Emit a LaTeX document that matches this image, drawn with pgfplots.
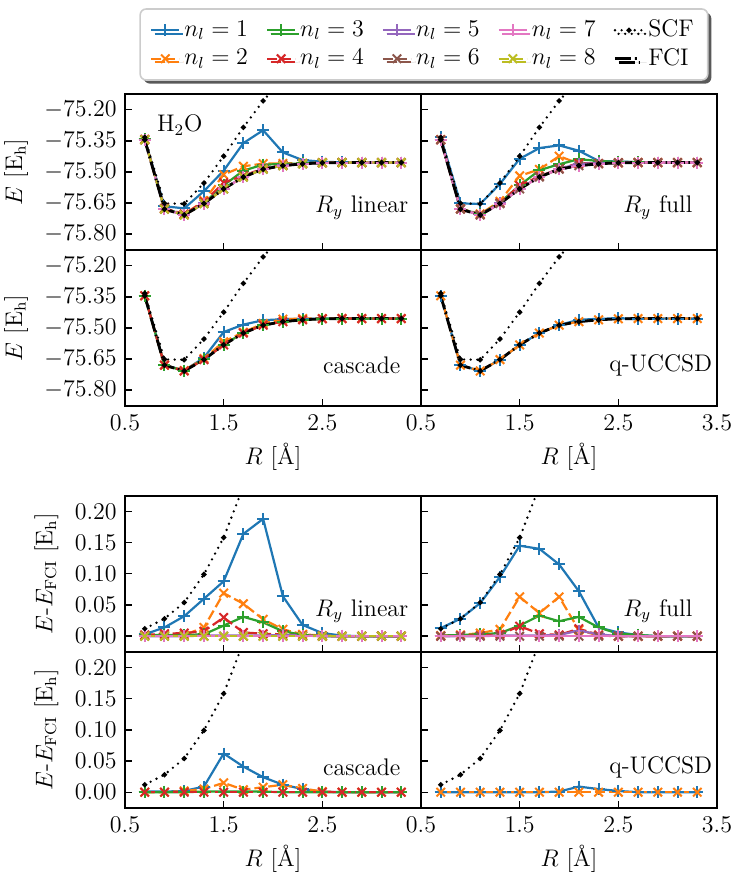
\documentclass[border=0pt]{standalone}
\usepackage{pgfplots}
\usepackage{pgfplotstable}
\pgfplotsset{compat=1.18}
\usetikzlibrary{shadows}

\definecolor{c1}{HTML}{1F77B4}
\definecolor{c2}{HTML}{FF7F0E}
\definecolor{c3}{HTML}{2CA02C}
\definecolor{c4}{HTML}{D62728}
\definecolor{c5}{HTML}{9467BD}
\definecolor{c6}{HTML}{8C564B}
\definecolor{c7}{HTML}{E377C2}
\definecolor{c8}{HTML}{BCBD22}

% reference curves: FCI and SCF energies, SCF error
\pgfplotstableread{
R   fci     scf     dscf
0.7 -75.345 -75.333 0.012
0.9 -75.680 -75.652 0.028
1.1 -75.708 -75.654 0.054
1.3 -75.653 -75.554 0.099
1.5 -75.582 -75.424 0.158
1.7 -75.525 -75.285 0.240
1.9 -75.487 -75.157 0.330
2.1 -75.470 -75.050 0.420
2.3 -75.461 -74.961 0.500
2.5 -75.456 -74.886 0.570
2.7 -75.455 -74.825 0.630
2.9 -75.455 -74.775 0.680
3.1 -75.455 -74.735 0.720
3.3 -75.455 -74.705 0.750
}\common

% R_y linear
\pgfplotstableread{
R   n1      n2      n3      n4      n5      n6      n7      n8
0.7 -75.342 -75.344 -75.343 -75.343 -75.345 -75.345 -75.345 -75.345
0.9 -75.666 -75.678 -75.678 -75.676 -75.680 -75.680 -75.680 -75.680
1.1 -75.676 -75.706 -75.706 -75.703 -75.708 -75.708 -75.708 -75.708
1.3 -75.593 -75.639 -75.650 -75.645 -75.652 -75.653 -75.653 -75.653
1.5 -75.494 -75.513 -75.565 -75.552 -75.581 -75.582 -75.582 -75.582
1.7 -75.361 -75.473 -75.494 -75.519 -75.524 -75.525 -75.525 -75.525
1.9 -75.299 -75.460 -75.465 -75.483 -75.486 -75.487 -75.487 -75.487
2.1 -75.406 -75.459 -75.462 -75.467 -75.468 -75.470 -75.470 -75.470
2.3 -75.443 -75.458 -75.459 -75.460 -75.460 -75.461 -75.461 -75.461
2.5 -75.451 -75.455 -75.456 -75.456 -75.456 -75.456 -75.456 -75.456
2.7 -75.454 -75.455 -75.455 -75.455 -75.455 -75.455 -75.455 -75.455
2.9 -75.455 -75.455 -75.455 -75.455 -75.455 -75.455 -75.455 -75.455
3.1 -75.455 -75.455 -75.455 -75.455 -75.455 -75.455 -75.455 -75.455
3.3 -75.455 -75.455 -75.455 -75.455 -75.455 -75.455 -75.455 -75.455
}\linE
\pgfplotstableread{
R   n1    n2    n3    n4    n5    n6    n7    n8
0.7 0.003 0.001 0.002 0.002 0.000 0.000 0.000 0.000
0.9 0.014 0.002 0.002 0.004 0.000 0.000 0.000 0.000
1.1 0.032 0.002 0.002 0.005 0.000 0.000 0.000 0.000
1.3 0.060 0.014 0.003 0.008 0.001 0.000 0.000 0.000
1.5 0.088 0.069 0.017 0.030 0.001 0.000 0.000 0.000
1.7 0.164 0.052 0.031 0.006 0.001 0.000 0.000 0.000
1.9 0.188 0.027 0.022 0.004 0.001 0.000 0.000 0.000
2.1 0.064 0.011 0.008 0.003 0.002 0.000 0.000 0.000
2.3 0.018 0.003 0.002 0.001 0.001 0.000 0.000 0.000
2.5 0.005 0.001 0.000 0.000 0.000 0.000 0.000 0.000
2.7 0.001 0.000 0.000 0.000 0.000 0.000 0.000 0.000
2.9 0.000 0.000 0.000 0.000 0.000 0.000 0.000 0.000
3.1 0.000 0.000 0.000 0.000 0.000 0.000 0.000 0.000
3.3 0.000 0.000 0.000 0.000 0.000 0.000 0.000 0.000
}\linD

% R_y full
\pgfplotstableread{
R   n1      n2      n3      n4      n5      n6      n7
0.7 -75.332 -75.344 -75.344 -75.345 -75.345 -75.345 -75.345
0.9 -75.652 -75.678 -75.678 -75.679 -75.680 -75.680 -75.680
1.1 -75.655 -75.703 -75.705 -75.707 -75.708 -75.708 -75.708
1.3 -75.558 -75.642 -75.648 -75.650 -75.652 -75.653 -75.653
1.5 -75.437 -75.519 -75.565 -75.566 -75.581 -75.582 -75.582
1.7 -75.385 -75.488 -75.492 -75.521 -75.524 -75.525 -75.525
1.9 -75.372 -75.424 -75.463 -75.485 -75.485 -75.487 -75.487
2.1 -75.398 -75.460 -75.439 -75.458 -75.461 -75.470 -75.470
2.3 -75.447 -75.460 -75.447 -75.459 -75.458 -75.461 -75.461
2.5 -75.450 -75.456 -75.452 -75.456 -75.456 -75.456 -75.456
2.7 -75.453 -75.455 -75.453 -75.455 -75.455 -75.455 -75.455
2.9 -75.455 -75.455 -75.455 -75.455 -75.455 -75.455 -75.455
3.1 -75.455 -75.455 -75.455 -75.455 -75.455 -75.455 -75.455
3.3 -75.455 -75.455 -75.455 -75.455 -75.455 -75.455 -75.455
}\fullE
\pgfplotstableread{
R   n1    n2    n3    n4    n5    n6    n7
0.7 0.013 0.001 0.001 0.000 0.000 0.000 0.000
0.9 0.028 0.002 0.002 0.001 0.000 0.000 0.000
1.1 0.053 0.005 0.003 0.001 0.000 0.000 0.000
1.3 0.095 0.011 0.005 0.003 0.001 0.000 0.000
1.5 0.145 0.063 0.017 0.016 0.001 0.000 0.000
1.7 0.140 0.037 0.033 0.004 0.001 0.000 0.000
1.9 0.115 0.063 0.024 0.002 0.002 0.000 0.000
2.1 0.072 0.010 0.031 0.012 0.009 0.000 0.000
2.3 0.014 0.001 0.014 0.002 0.003 0.000 0.000
2.5 0.006 0.000 0.004 0.000 0.000 0.000 0.000
2.7 0.002 0.000 0.002 0.000 0.000 0.000 0.000
2.9 0.000 0.000 0.000 0.000 0.000 0.000 0.000
3.1 0.000 0.000 0.000 0.000 0.000 0.000 0.000
3.3 0.000 0.000 0.000 0.000 0.000 0.000 0.000
}\fullD

% cascade
\pgfplotstableread{
R   n1      n2      n3      n4
0.7 -75.344 -75.345 -75.345 -75.345
0.9 -75.679 -75.680 -75.680 -75.680
1.1 -75.706 -75.706 -75.708 -75.708
1.3 -75.644 -75.648 -75.652 -75.653
1.5 -75.520 -75.567 -75.581 -75.582
1.7 -75.484 -75.521 -75.524 -75.525
1.9 -75.463 -75.479 -75.486 -75.487
2.1 -75.458 -75.458 -75.470 -75.470
2.3 -75.456 -75.455 -75.461 -75.461
2.5 -75.455 -75.455 -75.456 -75.456
2.7 -75.455 -75.455 -75.455 -75.455
2.9 -75.455 -75.455 -75.455 -75.455
3.1 -75.455 -75.455 -75.455 -75.455
3.3 -75.455 -75.455 -75.455 -75.455
}\casE
\pgfplotstableread{
R   n1    n2    n3    n4
0.7 0.001 0.000 0.000 0.000
0.9 0.001 0.000 0.000 0.000
1.1 0.002 0.002 0.000 0.000
1.3 0.009 0.005 0.001 0.000
1.5 0.062 0.015 0.001 0.000
1.7 0.041 0.004 0.001 0.000
1.9 0.024 0.008 0.001 0.000
2.1 0.012 0.012 0.000 0.000
2.3 0.005 0.006 0.000 0.000
2.5 0.001 0.001 0.000 0.000
2.7 0.000 0.000 0.000 0.000
2.9 0.000 0.000 0.000 0.000
3.1 0.000 0.000 0.000 0.000
3.3 0.000 0.000 0.000 0.000
}\casD

% q-UCCSD
\pgfplotstableread{
R   n1      n2
0.7 -75.345 -75.345
0.9 -75.680 -75.680
1.1 -75.708 -75.708
1.3 -75.653 -75.653
1.5 -75.582 -75.582
1.7 -75.525 -75.525
1.9 -75.486 -75.487
2.1 -75.461 -75.470
2.3 -75.456 -75.461
2.5 -75.454 -75.456
2.7 -75.455 -75.455
2.9 -75.455 -75.455
3.1 -75.455 -75.455
3.3 -75.455 -75.455
}\ucE
\pgfplotstableread{
R   n1    n2
0.7 0.000 0.000
0.9 0.000 0.000
1.1 0.000 0.000
1.3 0.000 0.000
1.5 0.000 0.000
1.7 0.000 0.000
1.9 0.001 0.000
2.1 0.009 0.000
2.3 0.005 0.000
2.5 0.002 0.000
2.7 0.000 0.000
2.9 0.000 0.000
3.1 0.000 0.000
3.3 0.000 0.000
}\ucD

\pgfplotsset{
  odd/.style={solid, line width=1.1pt, mark=+, mark size=3pt, mark options={solid, line width=1pt}},
  even/.style={dash pattern=on 5pt off 2pt, line width=1.1pt, mark=x, mark size=3pt, mark options={solid, line width=1pt}},
  s1/.style={odd, color=c1}, s2/.style={even, color=c2},
  s3/.style={odd, color=c3}, s4/.style={even, color=c4},
  s5/.style={odd, color=c5}, s6/.style={even, color=c6},
  s7/.style={odd, color=c7}, s8/.style={even, color=c8},
  scf/.style={black, line width=1.3pt, line cap=round, dash pattern=on 0pt off 3.3pt, mark=*, mark size=0.55pt, mark options={solid}},
  fci/.style={black, line width=1.4pt, dash pattern=on 7pt off 1.8pt on 0.8pt off 1.8pt, mark=*, mark size=0.55pt, mark options={solid}},
  panel/.style={scale only axis, width=148pt, height=78pt, anchor=north west,
    xmin=0.5, xmax=3.5, xtick={0.5,1.5,2.5,3.5},
    xtick pos=bottom, ytick pos=left, tick align=inside, major tick length=3.5pt,
    every tick/.style={black, line width=0.7pt}, axis line style={line width=0.8pt},
    xlabel style={yshift=2pt},
    yticklabel style={/pgf/number format/.cd, fixed, fixed zerofill, precision=2}},
  en/.style={ymin=-75.877, ymax=-75.124, ytick={-75.8,-75.65,-75.5,-75.35,-75.2},
    ylabel={$E$ [E$_\mathrm{h}$]}},
  er/.style={ymin=-0.025, ymax=0.225, ytick={0,0.05,0.1,0.15,0.2},
    ylabel={$E$-$E_\mathrm{FCI}$ [E$_\mathrm{h}$]}},
}

\begin{document}
\fontsize{12}{14}\selectfont
\begin{tikzpicture}[font=\fontsize{12}{14}\selectfont]
\useasboundingbox (0,0) rectangle (366.5pt,436.5pt);

% ---------- energies ----------
\begin{axis}[panel, en, at={(62.5pt,389.5pt)}, xticklabels={},
  legend columns=5, legend cell align=left,
  legend image code/.code={\draw[mark repeat=2,mark phase=2] plot coordinates {(0pt,0pt) (7pt,0pt) (14pt,0pt)};},
  legend style={at={(1.01,1.55)}, anchor=north, draw=black!20, line width=0.8pt,
    rounded corners=3pt, fill=white, inner xsep=5pt, inner ysep=3.5pt, row sep=0pt,
    drop shadow={shadow xshift=1.8pt, shadow yshift=-1.8pt, fill=black!65, opacity=1},
    /tikz/every even column/.append style={column sep=7pt}}]
\addlegendimage{s1}\addlegendentry{$n_l=1$}
\addlegendimage{s3}\addlegendentry{$n_l=3$}
\addlegendimage{s5}\addlegendentry{$n_l=5$}
\addlegendimage{s7}\addlegendentry{$n_l=7$}
\addlegendimage{scf}\addlegendentry{SCF}
\addlegendimage{s2}\addlegendentry{$n_l=2$}
\addlegendimage{s4}\addlegendentry{$n_l=4$}
\addlegendimage{s6}\addlegendentry{$n_l=6$}
\addlegendimage{s8}\addlegendentry{$n_l=8$}
\addlegendimage{fci, mark=none, dash pattern=on 8pt off 2pt on 0.8pt off 4pt}\addlegendentry{FCI}
\addplot[s1] table[x=R,y=n1] {\linE};
\addplot[s2] table[x=R,y=n2] {\linE};
\addplot[s3] table[x=R,y=n3] {\linE};
\addplot[s4] table[x=R,y=n4] {\linE};
\addplot[s5] table[x=R,y=n5] {\linE};
\addplot[s6] table[x=R,y=n6] {\linE};
\addplot[s7] table[x=R,y=n7] {\linE};
\addplot[s8] table[x=R,y=n8] {\linE};
\addplot[scf] table[x=R,y=scf] {\common};
\addplot[fci] table[x=R,y=fci] {\common};
\node at (rel axis cs:0.185,0.8) {H$_2$O};
\node at (rel axis cs:0.8,0.27) {$R_y$ linear};
\end{axis}

\begin{axis}[panel, en, at={(210.5pt,389.5pt)}, xticklabels={}, yticklabels={}, ylabel={}]
\addplot[s1] table[x=R,y=n1] {\fullE};
\addplot[s2] table[x=R,y=n2] {\fullE};
\addplot[s3] table[x=R,y=n3] {\fullE};
\addplot[s4] table[x=R,y=n4] {\fullE};
\addplot[s5] table[x=R,y=n5] {\fullE};
\addplot[s6] table[x=R,y=n6] {\fullE};
\addplot[s7] table[x=R,y=n7] {\fullE};
\addplot[scf] table[x=R,y=scf] {\common};
\addplot[fci] table[x=R,y=fci] {\common};
\node at (rel axis cs:0.8,0.27) {$R_y$ full};
\end{axis}

\begin{axis}[panel, en, at={(62.5pt,311.5pt)}, xticklabels={0.5,1.5,2.5,{}}, xlabel={$R$ [\AA]}]
\addplot[s1] table[x=R,y=n1] {\casE};
\addplot[s2] table[x=R,y=n2] {\casE};
\addplot[s3] table[x=R,y=n3] {\casE};
\addplot[s4] table[x=R,y=n4] {\casE};
\addplot[scf] table[x=R,y=scf] {\common};
\addplot[fci] table[x=R,y=fci] {\common};
\node at (rel axis cs:0.8,0.26) {cascade};
\end{axis}

\begin{axis}[panel, en, at={(210.5pt,311.5pt)}, xticklabels={0.5,1.5,2.5,3.5}, yticklabels={}, ylabel={}, xlabel={$R$ [\AA]}]
\addplot[s1] table[x=R,y=n1] {\ucE};
\addplot[s2] table[x=R,y=n2] {\ucE};
\addplot[scf] table[x=R,y=scf] {\common};
\addplot[fci] table[x=R,y=fci] {\common};
\node at (rel axis cs:0.81,0.26) {q-UCCSD};
\end{axis}

% ---------- errors ----------
\begin{axis}[panel, er, at={(62.5pt,188.6pt)}, xticklabels={}]
\addplot[s1] table[x=R,y=n1] {\linD};
\addplot[s2] table[x=R,y=n2] {\linD};
\addplot[s3] table[x=R,y=n3] {\linD};
\addplot[s4] table[x=R,y=n4] {\linD};
\addplot[s5] table[x=R,y=n5] {\linD};
\addplot[s6] table[x=R,y=n6] {\linD};
\addplot[s7] table[x=R,y=n7] {\linD};
\addplot[s8] table[x=R,y=n8] {\linD};
\addplot[scf] table[x=R,y=dscf] {\common};
\node at (rel axis cs:0.8,0.26) {$R_y$ linear};
\end{axis}

\begin{axis}[panel, er, at={(210.5pt,188.6pt)}, xticklabels={}, yticklabels={}, ylabel={}]
\addplot[s1] table[x=R,y=n1] {\fullD};
\addplot[s2] table[x=R,y=n2] {\fullD};
\addplot[s3] table[x=R,y=n3] {\fullD};
\addplot[s4] table[x=R,y=n4] {\fullD};
\addplot[s5] table[x=R,y=n5] {\fullD};
\addplot[s6] table[x=R,y=n6] {\fullD};
\addplot[s7] table[x=R,y=n7] {\fullD};
\addplot[scf] table[x=R,y=dscf] {\common};
\node at (rel axis cs:0.8,0.26) {$R_y$ full};
\end{axis}

\begin{axis}[panel, er, at={(62.5pt,110.6pt)}, xticklabels={0.5,1.5,2.5,{}}, xlabel={$R$ [\AA]}]
\addplot[s1] table[x=R,y=n1] {\casD};
\addplot[s2] table[x=R,y=n2] {\casD};
\addplot[s3] table[x=R,y=n3] {\casD};
\addplot[s4] table[x=R,y=n4] {\casD};
\addplot[scf] table[x=R,y=dscf] {\common};
\node at (rel axis cs:0.8,0.26) {cascade};
\end{axis}

\begin{axis}[panel, er, at={(210.5pt,110.6pt)}, xticklabels={0.5,1.5,2.5,3.5}, yticklabels={}, ylabel={}, xlabel={$R$ [\AA]}]
\addplot[s1] table[x=R,y=n1] {\ucD};
\addplot[s2] table[x=R,y=n2] {\ucD};
\addplot[scf] table[x=R,y=dscf] {\common};
\node at (rel axis cs:0.81,0.26) {q-UCCSD};
\end{axis}
\end{tikzpicture}
\end{document}
